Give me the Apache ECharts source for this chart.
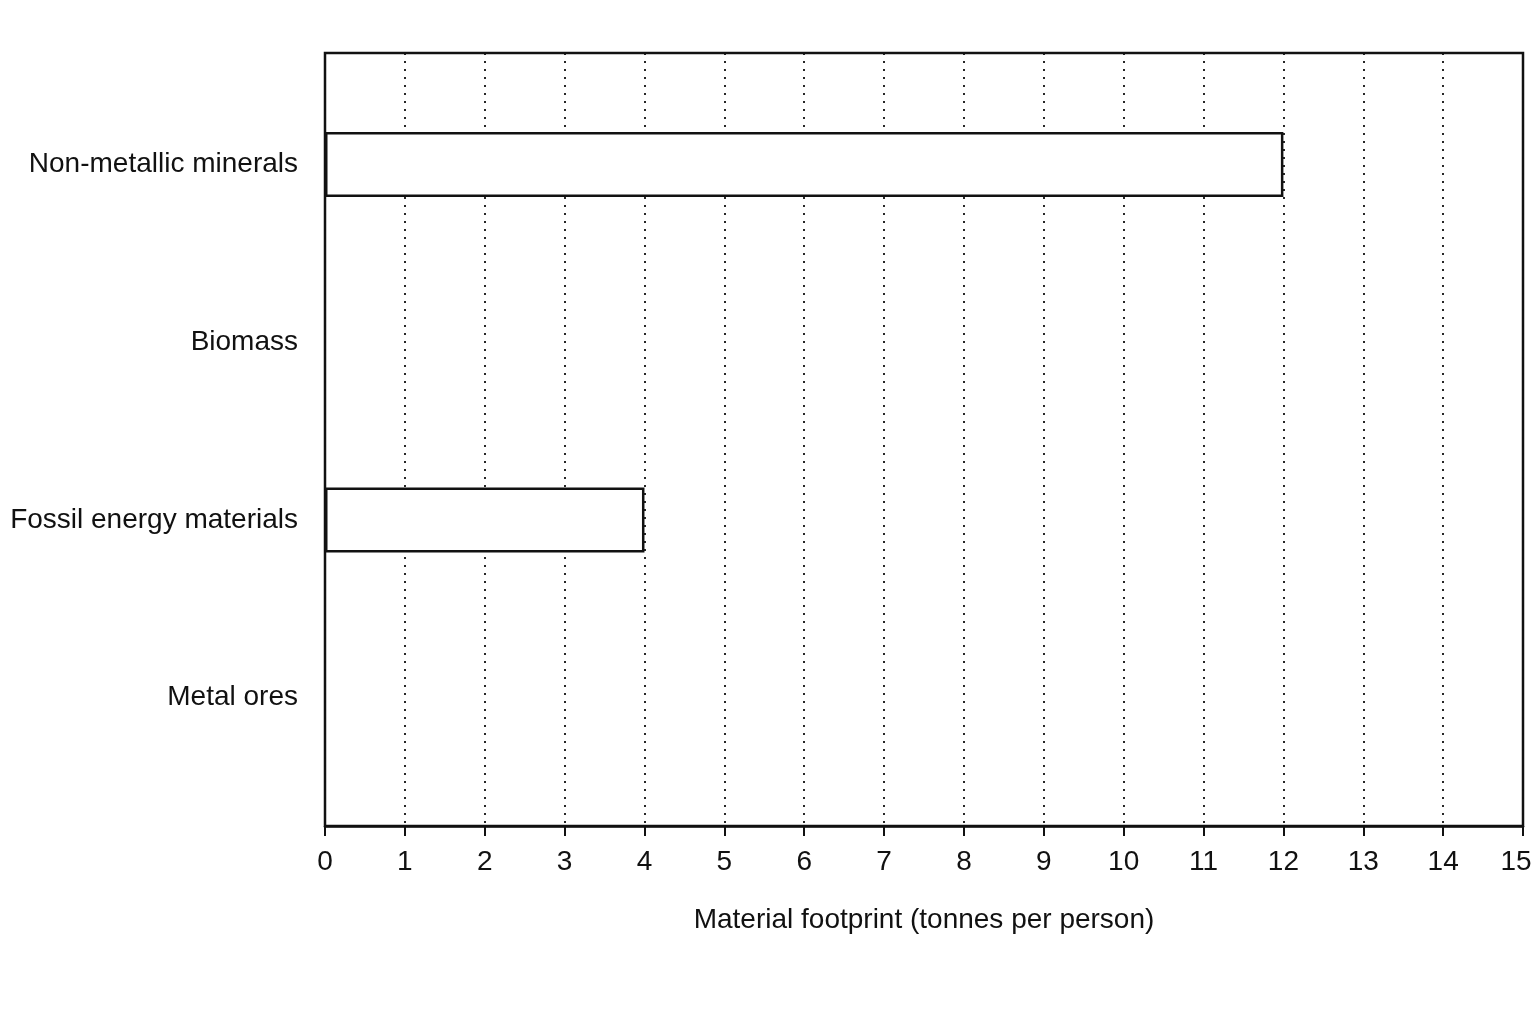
<!DOCTYPE html>
<html>
<head>
<meta charset="utf-8">
<script src="https://cdn.jsdelivr.net/npm/echarts@6/dist/echarts.min.js"></script>
<style>
  html, body { margin: 0; padding: 0; background: #fff; }
  #chart { width: 1536px; height: 1024px; }
</style>
</head>
<body>
<div id="chart"></div>
<script>
// data
var categories = ["Non-metallic minerals", "Biomass", "Fossil energy materials", "Metal ores"];
var footprint = [12, null, 4, null]; // tonnes per person, blank rows left empty
var xMin = 0;
var xMax = 15;

(function () {
  var myChart = echarts.init(document.getElementById("chart"));
  var font = "'Liberation Sans Narrow', 'Arial Narrow', 'Liberation Sans', Arial, sans-serif";

  var option = {
    backgroundColor: "#fff",
    animation: false,
    grid: [
      // frame + x axis
      {
        left: 325, top: 53, width: 1198, height: 773,
        outerBoundsMode: "none",
        show: true, borderColor: "#111", borderWidth: 2.5, backgroundColor: "transparent"
      },
      // rows for the bars
      { left: 325, top: 75.6, width: 1198, height: 711, outerBoundsMode: "none" }
    ],
    xAxis: [
      {
        gridIndex: 0,
        type: "value",
        min: xMin,
        max: xMax,
        interval: 1,
        name: "Material footprint (tonnes per person)",
        nameLocation: "middle",
        nameGap: 80,
        nameTextStyle: { fontFamily: font, fontSize: 28, color: "#111" },
        axisLine: { show: true, lineStyle: { color: "#111", width: 2.5 } },
        axisTick: { show: true, length: 10, lineStyle: { color: "#111", width: 2 } },
        axisLabel: {
          margin: 22,
          fontFamily: font,
          fontSize: 28,
          color: "#111",
          // last label nudged left so it stays on the page
          formatter: function (v) {
            return v === xMax ? "{last|" + v + "}" : String(v);
          },
          rich: {
            last: { fontFamily: font, fontSize: 28, color: "#111", padding: [0, 14, 0, 0] }
          }
        },
        splitLine: { show: true, lineStyle: { color: "#111", width: 1.8, type: [2, 6] } }
      },
      { gridIndex: 1, type: "value", min: xMin, max: xMax, show: false }
    ],
    yAxis: [
      { gridIndex: 0, type: "value", show: false },
      {
        gridIndex: 1,
        type: "category",
        inverse: true,
        data: categories,
        axisLine: { show: false },
        axisTick: { show: false },
        axisLabel: { margin: 27, fontFamily: font, fontSize: 28, color: "#111" }
      }
    ],
    series: [
      {
        type: "bar",
        xAxisIndex: 1,
        yAxisIndex: 1,
        data: footprint,
        barWidth: 65,
        itemStyle: { color: "#fff", borderColor: "#111", borderWidth: 2.5 }
      }
    ]
  };

  myChart.setOption(option);
})();
</script>
</body>
</html>
